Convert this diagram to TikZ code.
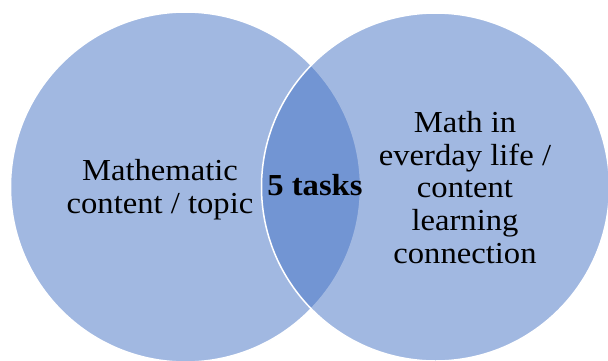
\documentclass[tikz,border=0pt]{standalone}
\usepackage{fontspec}
\setmainfont{Liberation Serif}[FakeStretch=1.07]
\definecolor{accent}{HTML}{4472C4}
\begin{document}
\begin{tikzpicture}[x=1pt,y=-1pt,
  venn/.style={fill=accent,fill opacity=0.5,draw=white,line width=1.5pt},
  lbl/.style={align=center,inner sep=0pt,text=black,font=\fontsize{30.5}{32.7}\selectfont}]
\useasboundingbox (0,0) rectangle (608,360);
\begin{scope}
\clip (0,0) rectangle (608,360);
\path[venn] (185.5,187) circle[radius=175];
\path[venn] (435.5,187) circle[radius=174];
\end{scope}
\node[lbl] (left) at (160,190) {Mathematic\\content / topic};
\node[lbl] (right) at (465,187.5) {Math in\\everday life /\\content\\learning\\connection};
\node[lbl,font=\fontsize{30.5}{32.7}\selectfont\bfseries] (mid) at (315,185) {5 tasks};
\end{tikzpicture}
\end{document}
